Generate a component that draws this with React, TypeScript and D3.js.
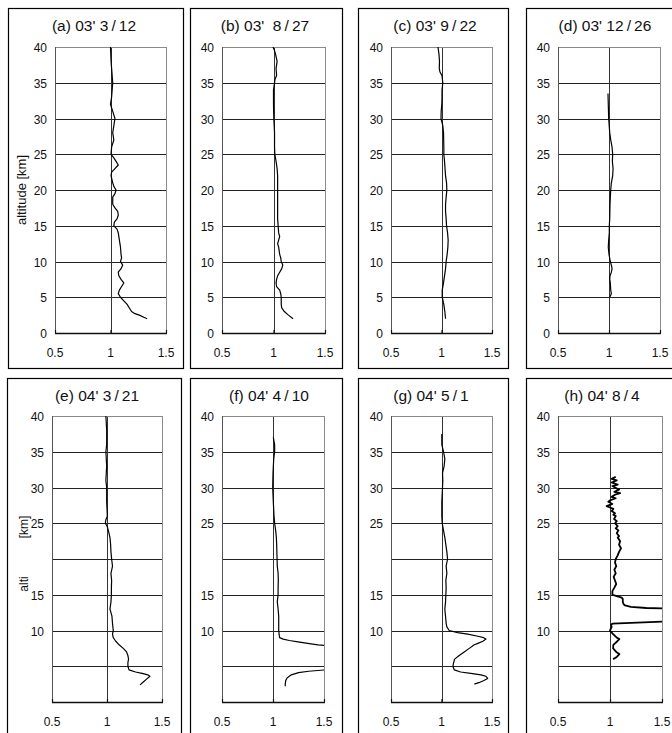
import React from "react";
import * as d3 from "d3";

// ---------- data ----------
const titles = [
  "(a) 03' 3\u2009/\u200912",
  "(b) 03'\u00a0\u00a08\u2009/\u200927",
  "(c) 03' 9\u2009/\u200922",
  "(d) 03' 12\u2009/\u200926",
  "(e) 04' 3\u2009/\u200921",
  "(f) 04' 4\u2009/\u200910",
  "(g) 04' 5\u2009/\u20091",
  "(h) 04' 8\u2009/\u20094",
];

const xTicks = [0.5, 1, 1.5];
const xTickLabels = ["0.5", "1", "1.5"];
const gridAlt = [5, 10, 15, 20, 25, 30, 35];
const yTicksTop = [0, 5, 10, 15, 20, 25, 30, 35, 40];
const yTicksBottom = [10, 15, 25, 30, 35, 40];

const altA = [40, 38, 36, 35, 33, 32, 31, 30, 29, 28, 27, 26, 25, 24.5, 24, 23.5, 23, 22.5, 22, 21, 20.5, 20, 19.5, 19, 18, 17.5, 17, 16.5, 16, 15.5, 15, 14.5, 14, 13, 12, 11, 10.5, 10, 9.5, 9, 8.5, 8, 7.5, 7, 6.5, 6, 5.5, 5, 4.5, 4, 3.5, 3, 2.7, 2.5, 2.2, 2];
const valA = [1.0, 1.005, 1.015, 1.02, 1.01, 1.0, 1.02, 1.04, 1.03, 1.02, 1.03, 1.01, 1.005, 1.03, 1.05, 1.07, 1.04, 1.01, 1.005, 1.02, 1.03, 1.05, 1.04, 1.02, 1.02, 1.04, 1.065, 1.07, 1.06, 1.035, 1.03, 1.06, 1.07, 1.08, 1.09, 1.095, 1.1, 1.09, 1.11, 1.095, 1.07, 1.075, 1.095, 1.12, 1.1, 1.08, 1.07, 1.09, 1.12, 1.15, 1.17, 1.19, 1.22, 1.26, 1.3, 1.33];

const altB = [40, 39.5, 39, 38, 37, 36, 35.5, 35, 34, 32, 30, 28, 26, 25, 24, 23, 22, 20, 18, 16, 15, 14, 13.5, 13, 12.5, 12, 11, 10.5, 10, 9.5, 9, 8.5, 8, 7.5, 7, 6.5, 6, 5.5, 5, 4, 3.5, 3, 2.5, 2];
const valB = [0.995, 1.01, 1.02, 1.035, 1.025, 1.03, 1.015, 1.01, 1.0, 1.0, 1.003, 1.01, 1.01, 1.013, 1.025, 1.035, 1.04, 1.04, 1.04, 1.04, 1.045, 1.05, 1.06, 1.05, 1.04, 1.05, 1.06, 1.07, 1.075, 1.09, 1.08, 1.06, 1.04, 1.03, 1.025, 1.03, 1.06, 1.07, 1.075, 1.075, 1.08, 1.105, 1.145, 1.19];

const altC = [40, 39, 38, 37, 36.5, 36, 35, 34, 33, 32, 31, 30, 29, 28, 26, 25, 24, 22, 21, 20, 19, 18, 17, 16, 15, 14, 13, 12, 11, 10, 9, 8, 7, 6, 5, 4, 3, 2];
const valC = [0.965, 0.975, 0.98, 0.978, 0.985, 1.005, 1.013, 1.005, 1.005, 1.003, 0.997, 0.995, 1.013, 1.02, 1.023, 1.023, 1.03, 1.04, 1.05, 1.053, 1.046, 1.04, 1.04, 1.046, 1.05, 1.06, 1.066, 1.063, 1.056, 1.046, 1.04, 1.03, 1.02, 1.007, 1.007, 1.023, 1.033, 1.04];

const altD = [33.5, 32, 30, 28, 27, 26, 25, 24, 23, 22, 21, 20, 19, 18, 16, 15, 14, 13, 12, 11, 10, 9.5, 9, 8.5, 8, 7.5, 7, 6, 5.5, 5];
const valD = [0.99, 0.993, 0.997, 1.007, 1.017, 1.03, 1.036, 1.033, 1.04, 1.036, 1.023, 1.017, 1.013, 1.01, 1.007, 1.003, 1.003, 0.997, 0.993, 1.0, 1.013, 1.023, 1.03, 1.023, 1.01, 1.007, 1.013, 1.017, 1.023, 1.007];

const altE = [40, 38, 36, 35, 33, 31, 30, 28, 26, 25.5, 25, 24.5, 24, 23, 22, 21, 20, 19, 18, 17, 16, 15, 14, 13, 12.5, 12, 11, 10, 9.5, 9, 8.5, 8, 7.5, 7, 6.5, 6, 5.5, 5, 4.5, 4.2, 4.0, 3.8, 3.6, 3.2, 2.8, 2.4];
const valE = [0.99, 0.997, 0.997, 0.99, 0.997, 0.99, 0.997, 0.997, 1.003, 0.99, 0.985, 1.003, 1.012, 1.027, 1.033, 1.036, 1.042, 1.05, 1.036, 1.042, 1.04, 1.04, 1.036, 1.027, 1.036, 1.045, 1.05, 1.057, 1.05, 1.057, 1.08, 1.11, 1.148, 1.178, 1.19, 1.196, 1.19, 1.19, 1.2, 1.26, 1.32, 1.37, 1.39, 1.36, 1.33, 1.3];

const altF = [37, 36, 35, 34, 32, 30, 28, 26, 25, 24, 23, 22, 20, 19, 18, 17, 16, 15, 14, 13, 12, 11, 10, 9.5, 9, 8.8, 8.6, 8.4, 8.2, 8.0, 7.85, 7.5, 5.0, 4.55, 4.3, 4.1, 3.8, 3.4, 3.0, 2.5, 2.2];
const valF = [1.003, 1.016, 1.016, 1.007, 1.0, 0.997, 1.003, 1.01, 1.016, 1.026, 1.033, 1.036, 1.04, 1.042, 1.05, 1.052, 1.05, 1.05, 1.042, 1.05, 1.056, 1.056, 1.056, 1.06, 1.065, 1.1, 1.16, 1.245, 1.34, 1.44, 1.56, 1.7, 1.7, 1.56, 1.35, 1.25, 1.18, 1.14, 1.125, 1.12, 1.12];

const altG = [37.5, 36, 35, 34, 33, 32, 31, 30, 28, 26, 25, 24, 23, 22, 21, 20, 19, 18, 17, 16, 15, 14, 13, 12.5, 12, 11, 10.5, 10, 9.7, 9.5, 9.2, 9.0, 8.8, 8.5, 8.2, 8, 7.5, 7, 6.5, 6, 5.5, 5, 4.5, 4.2, 4.0, 3.8, 3.6, 3.3, 3.0, 2.7, 2.5];
const valG = [1.003, 1.003, 1.02, 1.033, 1.026, 1.01, 1.013, 1.01, 1.003, 1.003, 1.007, 1.02, 1.033, 1.043, 1.053, 1.06, 1.046, 1.053, 1.043, 1.046, 1.043, 1.04, 1.033, 1.036, 1.04, 1.046, 1.053, 1.076, 1.16, 1.26, 1.36, 1.417, 1.44, 1.41, 1.36, 1.325, 1.275, 1.225, 1.175, 1.13, 1.12, 1.113, 1.126, 1.19, 1.29, 1.39, 1.44, 1.457, 1.42, 1.37, 1.325];

const altH = [31.5, 31.2, 31, 30.7, 30.4, 30.2, 30, 29.7, 29.4, 29.2, 29, 28.7, 28.5, 28.2, 28, 27.7, 27.4, 27.2, 27, 26.7, 26.4, 26.2, 26, 25.6, 25.3, 25, 24.6, 24.3, 24, 23.6, 23.2, 23, 22.5, 22, 21.5, 21, 20.5, 20, 19.5, 19, 18.5, 18, 17.5, 17, 16.5, 16, 15.5, 15, 14.8, 14.6, 14.4, 14, 13.7, 13.5, 13.3, 13.15, 13.1, 13.05, 12.5, 11.6, 11.3, 10.95, 10.8, 10.5, 10, 9.8, 9.5, 9.0, 8.8, 8.5, 8.0, 7.5, 7.0, 6.7, 6.3, 6.0];
const valH = [1.055, 1.016, 1.065, 1.016, 1.074, 1.023, 1.048, 1.087, 1.042, 1.097, 1.048, 1.016, 1.055, 1.0, 0.984, 1.023, 0.968, 1.0, 1.032, 1.016, 1.048, 1.032, 1.055, 1.039, 1.065, 1.048, 1.074, 1.055, 1.08, 1.065, 1.087, 1.074, 1.097, 1.087, 1.106, 1.087, 1.074, 1.055, 1.048, 1.06, 1.042, 1.055, 1.035, 1.048, 1.06, 1.042, 1.023, 1.023, 1.065, 1.113, 1.123, 1.123, 1.13, 1.145, 1.2, 1.35, 1.5, 1.6, 1.8, 1.8, 1.6, 1.023, 1.01, 1.016, 1.0, 1.01, 1.03, 1.065, 1.09, 1.07, 1.032, 1.03, 1.06, 1.09, 1.065, 1.03];

const series = [
  [altA, valA], [altB, valB], [altC, valC], [altD, valD],
  [altE, valE], [altF, valF], [altG, valG], [altH, valH],
];

// ---------- layout ----------
const FONT = "'Liberation Sans', Arial, Helvetica, sans-serif";
const rows = [
  { frameY: [8, 368], plotY: [47, 333] },
  { frameY: [378, 760], plotY: [416, 702] },
];
const cols = [
  { frame: [8, 183], plot: [55, 166], title: 94 },
  { frame: [190, 342], plot: [222, 325], title: 265 },
  { frame: [358, 508], plot: [391, 492], title: 435 },
  { frame: [526, 690], plot: [558, 660], title: 605 },
  { frame: [7, 181], plot: [52, 162], title: 97 },
  { frame: [190, 342], plot: [222, 324], title: 269 },
  { frame: [358, 508], plot: [391, 492], title: 431 },
  { frame: [526, 690], plot: [558, 662], title: 602 },
];

function Panel({ i }: { i: number }) {
  const row = rows[i < 4 ? 0 : 1];
  const c = cols[i];
  const x = d3.scaleLinear().domain([0.5, 1.5]).range(c.plot);
  const y = d3.scaleLinear().domain([0, 40]).range([row.plotY[1], row.plotY[0]]);
  const [alt, val] = series[i];
  const pts = alt.map((a, k) => [val[k], a] as [number, number]);
  const line = d3
    .line<[number, number]>()
    .x((d) => x(d[0]))
    .y((d) => y(d[1]));
  const yTicks = i < 4 ? yTicksTop : yTicksBottom;
  const px0 = c.plot[0], px1 = c.plot[1];
  const py0 = row.plotY[0], py1 = row.plotY[1];
  const clipId = `clip${i}`;
  return (
    <g>
      <rect
        x={c.frame[0] + 0.5}
        y={row.frameY[0] + 0.5}
        width={c.frame[1] - c.frame[0]}
        height={row.frameY[1] - row.frameY[0]}
        fill="#fff"
        stroke="#000"
        strokeWidth={1.2}
      />
      <text x={c.title} y={row.frameY[0] + 23} textAnchor="middle" fontSize={15.5} fontFamily={FONT} fill="#111">
        {titles[i]}
      </text>
      <defs>
        <clipPath id={clipId}>
          <rect x={px0} y={py0} width={px1 - px0} height={py1 - py0} />
        </clipPath>
      </defs>
      {gridAlt.map((g) => (
        <line key={g} x1={px0} x2={px1} y1={Math.round(y(g)) + 0.5} y2={Math.round(y(g)) + 0.5} stroke="#222" strokeWidth={1} />
      ))}
      <line x1={Math.round(x(1)) + 0.5} x2={Math.round(x(1)) + 0.5} y1={py0} y2={py1} stroke="#333" strokeWidth={1} />
      <rect x={px0 + 0.5} y={py0 + 0.5} width={px1 - px0} height={py1 - py0} fill="none" stroke="#8a8a8a" strokeWidth={1} />
      <line x1={px0} x2={px1 + 1} y1={py1 + 0.5} y2={py1 + 0.5} stroke="#111" strokeWidth={1.6} />
      <line x1={px0 + 0.5} x2={px0 + 0.5} y1={py0} y2={py1} stroke="#555" strokeWidth={1} />
      {xTicks.map((t) => (
        <line key={t} x1={x(t) + 0.5} x2={x(t) + 0.5} y1={py1 - 3} y2={py1} stroke="#111" strokeWidth={1.2} />
      ))}
      <path
        d={line(pts) || ""}
        fill="none"
        stroke="#000"
        strokeWidth={i === 7 ? 1.8 : 1.2}
        strokeLinejoin="round"
        clipPath={`url(#${clipId})`}
      />
      {yTicks.map((t) => (
        <text key={t} x={px0 - 8} y={y(t) + 5} textAnchor="end" fontSize={12} fontFamily={FONT} fill="#111">
          {t}
        </text>
      ))}
      {xTicks.map((t, k) => (
        <text key={t} x={x(t)} y={py1 + 24} textAnchor="middle" fontSize={12} fontFamily={FONT} fill="#111">
          {xTickLabels[k]}
        </text>
      ))}
    </g>
  );
}

export default function App() {
  return (
    <svg
      width={672}
      height={733}
      viewBox="0 0 672 733"
      style={{ position: "absolute", left: 0, top: 0, background: "#fff" }}
    >
      <rect x={0} y={0} width={672} height={733} fill="#fff" />
      {d3.range(8).map((i) => (
        <Panel key={i} i={i} />
      ))}
      <text transform="translate(26,190) rotate(-90)" textAnchor="middle" fontSize={13} fontFamily={FONT} fill="#111">
        altitude [km]
      </text>
      <text transform="translate(28,527) rotate(-90)" textAnchor="middle" fontSize={12} fontFamily={FONT} fill="#111">
        [km]
      </text>
      <text transform="translate(28,584) rotate(-90)" textAnchor="middle" fontSize={12} fontFamily={FONT} fill="#111">
        alti
      </text>
    </svg>
  );
}
